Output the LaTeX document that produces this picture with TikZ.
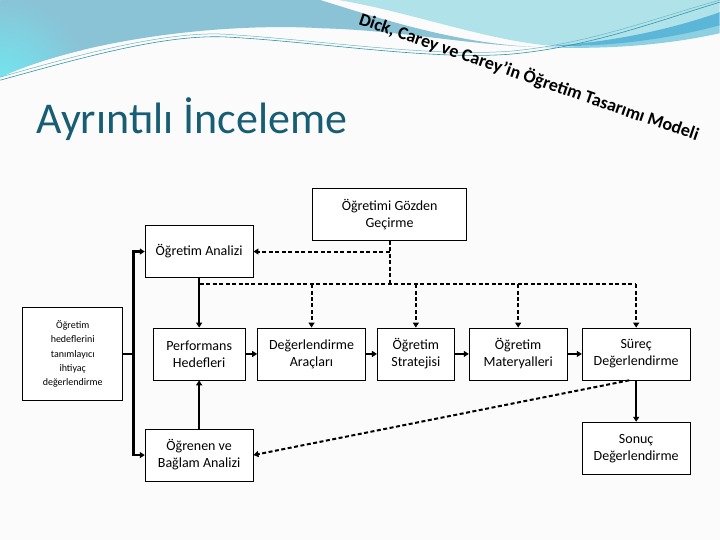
\documentclass[tikz,border=0pt]{standalone}
\usepackage{fontspec}
\setmainfont{Carlito}
\usetikzlibrary{arrows.meta}
\definecolor{titleTeal}{RGB}{23, 94, 117}
\definecolor{slideBg}{RGB}{251, 251, 251}
\definecolor{waveBlue}{RGB}{138, 194, 214}
\definecolor{waveCyan}{RGB}{112, 232, 240}
\definecolor{waveLight}{RGB}{176, 226, 234}
\definecolor{waveDark}{RGB}{92, 182, 216}
\definecolor{waveMid}{RGB}{140, 208, 226}
\definecolor{waveLine}{RGB}{48, 150, 170}

\begin{document}
\begin{tikzpicture}[x=1pt, y=-1pt, >={Triangle[width=6pt,length=5pt]},
    box/.style={draw, line width=0.8pt, fill=white, align=center, inner sep=0pt,
      minimum height=52pt, font=\fontsize{14}{17}\selectfont},
    link/.style={line width=2.2pt},
    dline/.style={line width=2pt, dash pattern=on 4pt off 2.5pt}]
  % slide background and wave
  \fill[slideBg] (0,0) rectangle (720,540);
  \begin{scope}
    \clip (0,0) -- (321,0) .. controls (385,20) and (460,44) .. (540,47)
      .. controls (470,45) and (400,30) .. (321,28) .. controls (220,22) and (80,40) .. (0,77) -- cycle;
    \fill[waveBlue] (0,0) rectangle (560,80);
    \shade[inner color=waveCyan, outer color=waveBlue] (0,85) circle (90);
  \end{scope}
  \fill[waveLight] (340,0) -- (720,0) -- (720,14) .. controls (660,34) and (600,48) .. (545,45)
    .. controls (480,38) and (410,12) .. (340,0) -- cycle;
  \fill[waveMid] (545,47) .. controls (620,46) and (680,34) .. (720,24) -- (720,33)
    .. controls (680,42) and (620,50) .. (545,47) -- cycle;
  \fill[waveDark] (545,46) .. controls (620,42) and (680,26) .. (720,12) -- (720,25)
    .. controls (680,36) and (620,47) .. (545,46) -- cycle;
  \draw[waveLine, line width=0.6pt] (0,80) .. controls (90,55) and (170,33) .. (230,37)
    .. controls (320,42) and (430,60) .. (510,54) .. controls (590,47) and (660,20) .. (720,2);
  \draw[waveLine!70, line width=0.5pt] (0,77) .. controls (90,51) and (170,31) .. (225,34)
    .. controls (320,40) and (430,57) .. (510,51) .. controls (590,44) and (660,16) .. (720,0);

  % titles
  \node[anchor=base west, inner sep=0pt, text=titleTeal, font=\fontsize{44}{50}\selectfont]
    (title) at (36,133) {Ayrıntılı İnceleme};
  \node[anchor=base west, inner sep=0pt, rotate=-19, font=\bfseries\fontsize{18}{21}\selectfont]
    (model) at (358,24) {Dick, Carey ve Carey’in Öğretim Tasarımı Modeli};

  % boxes
  \node[box, minimum width=154pt] (gozden) at (389.6,214.2) {Öğretimi Gözden\\Geçirme};
  \node[box, minimum width=108pt] (analiz) at (199,251.5) {Öğretim Analizi};
  \node[box, minimum width=100pt, minimum height=93pt, font=\fontsize{10}{14.3}\selectfont]
    (ihtiyac) at (72.5,354) {Öğretim\\hedeflerini\\tanımlayıcı\\ihtiyaç\\değerlendirme};
  \node[box, minimum width=92pt] (perf) at (199,354) {Performans\\Hedefleri};
  \node[box, minimum width=108pt] (arac) at (311.5,354) {Değerlendirme\\Araçları};
  \node[box, minimum width=77pt] (strateji) at (415.9,354) {Öğretim\\Stratejisi};
  \node[box, minimum width=98pt] (materyal) at (518.3,354) {Öğretim\\Materyalleri};
  \node[box, minimum width=108pt] (surec) at (636.4,354) {Süreç\\Değerlendirme};
  \node[box, minimum width=108pt] (ogrenen) at (199,455.2) {Öğrenen ve\\Bağlam Analizi};
  \node[box, minimum width=108pt] (sonuc) at (636.4,448.3) {Sonuç\\Değerlendirme};

  % solid connectors
  \coordinate (split) at (133.3,354);
  \draw[link] (ihtiyac.east) -- (split);
  \draw[link,->] (split) |- (analiz.west);
  \draw[link,->] (split) |- (ogrenen.west);
  \draw[link,->] (analiz.south) -- (perf.north);
  \draw[link,->] (ogrenen.north) -- (perf.south);
  \draw[link,->] (perf.east) -- (arac.west);
  \draw[link,->] (arac.east) -- (strateji.west);
  \draw[link,->] (strateji.east) -- (materyal.west);
  \draw[link,->] (materyal.east) -- (surec.west);
  \draw[link,->] (surec.south) -- (sonuc.north);

  % dashed revision lines
  \coordinate (busL) at (199,284);
  \coordinate (busR) at (636.4,284);
  \draw[dline] (analiz.south) -- (busL) -- (busR);
  \draw[dline] (gozden.south) -- (gozden.south |- busL);
  \draw[dline,->] (gozden.south |- analiz.east) -- (analiz.east);
  \foreach \n in {arac, strateji, materyal, surec}
    \draw[dline,->] (\n.north |- busL) -- (\n.north);
  \draw[dline,->] ([xshift=-7pt]surec.south) -- (ogrenen.east);
\end{tikzpicture}
\end{document}
